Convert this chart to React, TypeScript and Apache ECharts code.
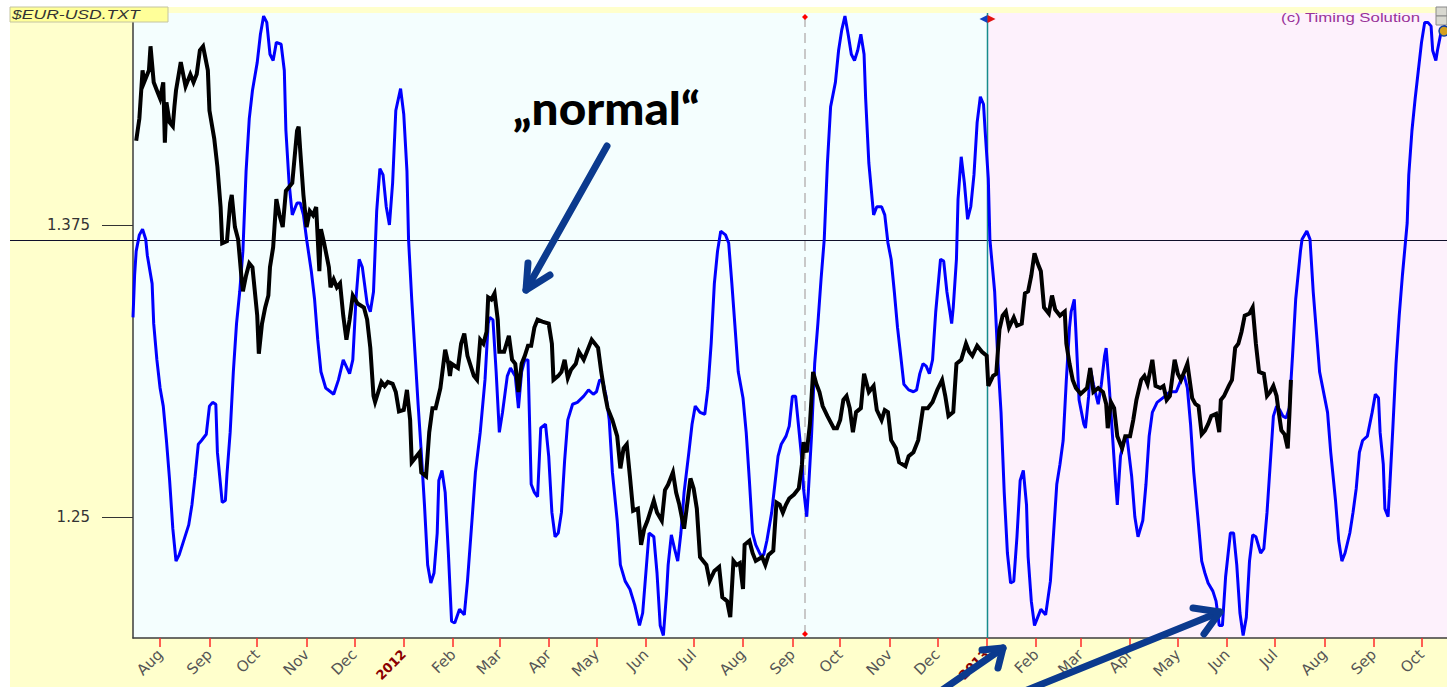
import React, { useEffect, useRef } from "react";
import * as echarts from "echarts";

// Day offsets are counted from 2012-01-01.
const DAY0 = Date.UTC(2012, 0, 1);
const axisMinDay = -170;
const axisMaxDay = 655;
const monthNames = ["Jan", "Feb", "Mar", "Apr", "May", "Jun", "Jul", "Aug", "Sep", "Oct", "Nov", "Dec"];

// EUR-USD close (black)
const priceDays = [
  -168, -166, -164, -163, -160, -159, -157, -155, -153, -151, -150, -149, -147, -145, -144, -143, -140, -137, -134, -132,
  -130, -128, -126, -123, -122, -119, -117, -115, -114, -111, -109, -108, -106, -104, -102, -101, -99, -97, -95, -92,
  -91, -89, -87, -85, -84, -82, -80, -78, -76, -74, -72, -70, -67, -66, -65, -63, -61, -59, -57, -55,
  -53, -52, -50, -47, -46, -44, -42, -40, -38, -36, -34, -32, -29, -25, -23, -21, -19, -18, -16, -14,
  -12, -10, -7, -5, -3, 0, 2, 4, 5, 8, 10, 11, 14, 16, 18, 20, 23, 26, 28, 29,
  30, 34, 36, 38, 40, 44, 46, 48, 50, 52, 53, 55, 57, 59, 60, 63, 66, 68, 70, 72,
  74, 76, 78, 80, 82, 84, 87, 91, 93, 94, 97, 99, 101, 103, 105, 108, 110, 113, 116, 118,
  120, 122, 124, 126, 128, 131, 134, 136, 138, 140, 142, 144, 147, 149, 151, 153, 157, 159, 162, 164,
  166, 169, 171, 173, 176, 180, 182, 184, 186, 188, 190, 192, 195, 198, 200, 203, 205, 207, 209, 211,
  213, 214, 217, 219, 221, 225, 227, 229, 232, 234, 236, 238, 240, 242, 245, 248, 250, 251, 253, 255,
  257, 259, 261, 263, 266, 270, 272, 274, 276, 278, 280, 282, 284, 287, 289, 292, 295, 297, 300, 302,
  304, 306, 309, 311, 315, 317, 320, 323, 326, 329, 332, 335, 338, 340, 342, 345, 347, 350, 353, 355,
  357, 360, 363, 366, 367, 370, 372, 374, 376, 378, 380, 383, 385, 388, 390, 392, 394, 396, 398, 400,
  402, 405, 407, 409, 412, 415, 416, 418, 420, 422, 425, 429, 431, 433, 436, 439, 441, 442, 444, 446,
  448, 451, 453, 456, 458, 460, 463, 465, 467, 470, 472, 475, 477, 479, 481, 484, 486, 488, 490, 492,
  495, 497, 499, 501, 503, 505, 507, 510, 512, 513, 515, 518, 520, 522, 524, 526, 528, 531, 533, 535,
  537, 540, 542, 544, 546, 548, 549, 551, 553, 555, 556, 557
];
const priceValues = [
  1.4111, 1.4206, 1.4412, 1.4361, 1.4412, 1.4515, 1.4361, 1.4326, 1.4292, 1.4361, 1.4102, 1.4275, 1.4189, 1.4172, 1.4257, 1.4326, 1.4447, 1.4343, 1.4395, 1.4361,
  1.4395, 1.4498, 1.4515, 1.4412, 1.424, 1.412, 1.3999, 1.3827, 1.3672, 1.3681, 1.3844, 1.3879, 1.3741, 1.3689, 1.3534, 1.3466, 1.3534, 1.3586, 1.3569, 1.3362,
  1.3199, 1.3328, 1.3397, 1.3448, 1.3569, 1.3655, 1.3861, 1.3792, 1.3741, 1.3896, 1.3913, 1.393, 1.4154, 1.4171, 1.4068, 1.3879, 1.3741, 1.381, 1.3792, 1.3827,
  1.3552, 1.3732, 1.3672, 1.3569, 1.3483, 1.3517, 1.3483, 1.35, 1.3362, 1.3259, 1.3345, 1.3448, 1.3414, 1.3397, 1.3345, 1.3224, 1.3018, 1.2992, 1.3035, 1.3078,
  1.3061, 1.3078, 1.307, 1.3035, 1.2952, 1.2958, 1.3044, 1.2915, 1.2734, 1.276, 1.2777, 1.2691, 1.2674, 1.2863, 1.2966, 1.2966, 1.3052, 1.3216, 1.3156, 1.3104,
  1.3156, 1.3138, 1.3242, 1.3285, 1.319, 1.3104, 1.3087, 1.3259, 1.3242, 1.3293, 1.344, 1.3431, 1.3457, 1.3345, 1.3207, 1.3207, 1.3276, 1.3173, 1.3156, 1.3035,
  1.3156, 1.319, 1.3233, 1.3233, 1.3311, 1.3345, 1.3336, 1.3328, 1.3242, 1.3087, 1.3104, 1.3121, 1.3173, 1.3095, 1.313, 1.3156, 1.3207, 1.3173, 1.3224, 1.3259,
  1.3242, 1.3224, 1.3121, 1.3035, 1.2966, 1.2915, 1.2846, 1.2708, 1.2794, 1.2811, 1.2674, 1.2527, 1.2536, 1.2381, 1.245, 1.2484, 1.257, 1.2519, 1.2484, 1.2615,
  1.2639, 1.2691, 1.2605, 1.2553, 1.245, 1.2665, 1.2622, 1.2536, 1.2329, 1.2312, 1.2295, 1.2226, 1.2269, 1.2286, 1.2157, 1.214, 1.2071, 1.2312, 1.2295, 1.2303,
  1.2192, 1.2381, 1.2398, 1.2346, 1.2312, 1.2329, 1.2295, 1.2338, 1.2355, 1.2562, 1.2553, 1.2519, 1.2553, 1.2579, 1.2596, 1.2622, 1.2725, 1.282, 1.2777, 1.2897,
  1.3121, 1.307, 1.3035, 1.2975, 1.2932, 1.288, 1.288, 1.2915, 1.3001, 1.3018, 1.2966, 1.2863, 1.2949, 1.2966, 1.3113, 1.3035, 1.3061, 1.2958, 1.2915, 1.2958,
  1.2949, 1.2829, 1.2794, 1.2734, 1.2717, 1.276, 1.2777, 1.2829, 1.2966, 1.2966, 1.2992, 1.3045, 1.3087, 1.3018, 1.2932, 1.2949, 1.3156, 1.3173, 1.3242, 1.3207,
  1.319, 1.3233, 1.3207, 1.319, 1.3061, 1.3104, 1.3113, 1.3302, 1.3362, 1.3379, 1.3311, 1.3354, 1.3319, 1.3328, 1.3457, 1.3466, 1.3534, 1.3629, 1.3586, 1.3552,
  1.3397, 1.3371, 1.3448, 1.3388, 1.3362, 1.3379, 1.3242, 1.3156, 1.3087, 1.3052, 1.3027, 1.3052, 1.3138, 1.3035, 1.3052, 1.3035, 1.2984, 1.288, 1.2992, 1.2966,
  1.2846, 1.2794, 1.2846, 1.2846, 1.2915, 1.3001, 1.3087, 1.3104, 1.307, 1.3173, 1.3061, 1.3052, 1.3061, 1.3001, 1.3018, 1.3173, 1.3113, 1.3087, 1.3121, 1.3156,
  1.3009, 1.2984, 1.2975, 1.2854, 1.287, 1.2897, 1.2932, 1.2941, 1.2863, 1.3001, 1.3018, 1.3061, 1.3087, 1.3224, 1.3242, 1.3293, 1.3362, 1.3371, 1.3397, 1.3242,
  1.3121, 1.3113, 1.3018, 1.3035, 1.3061, 1.3018, 1.2966, 1.2871, 1.2854, 1.2794, 1.2932, 1.3087
];

// Cycle projection (blue), 0..100 scale of the window height
const cycleDays = [
  -170, -169, -168, -166, -164, -162, -161, -158, -157, -155, -153, -151, -149, -147, -145, -143, -141, -139, -135, -133,
  -131, -129, -127, -124, -122, -120, -118, -117, -114, -112, -111, -109, -107, -105, -103, -101, -99, -97, -95, -92,
  -90, -88, -86, -84, -82, -80, -77, -75, -74, -72, -70, -67, -65, -63, -61, -58, -56, -54, -52, -49,
  -44, -41, -38, -34, -32, -30, -28, -26, -23, -21, -19, -17, -15, -13, -11, -9, -7, -5, -2, 0,
  2, 3, 5, 7, 9, 11, 13, 15, 17, 19, 21, 22, 24, 26, 28, 30, 32, 35, 38, 40,
  43, 45, 48, 51, 53, 54, 56, 58, 60, 62, 65, 67, 70, 72, 74, 76, 78, 80, 82, 84,
  86, 89, 91, 93, 95, 97, 99, 101, 103, 106, 109, 113, 116, 119, 121, 123, 125, 127, 129, 131,
  134, 136, 139, 142, 145, 148, 150, 152, 154, 157, 159, 161, 163, 165, 166, 168, 170, 172, 174, 176,
  179, 181, 183, 186, 189, 191, 193, 195, 197, 199, 202, 204, 206, 208, 210, 213, 215, 217, 219, 221,
  224, 226, 228, 231, 233, 235, 237, 240, 242, 244, 246, 248, 250, 251, 253, 254, 256, 258, 260, 262,
  264, 266, 268, 271, 273, 275, 277, 279, 281, 283, 285, 287, 289, 290, 292, 295, 297, 300, 302, 304,
  306, 308, 310, 312, 314, 317, 320, 322, 324, 326, 328, 330, 332, 334, 337, 339, 341, 344, 345, 347,
  348, 350, 352, 354, 356, 358, 360, 362, 364, 365, 367, 368, 371, 373, 375, 377, 379, 381, 383, 385,
  387, 389, 391, 392, 394, 396, 398, 400, 403, 406, 408, 410, 412, 414, 416, 418, 419, 421, 422, 424,
  427, 428, 430, 431, 433, 436, 438, 440, 441, 443, 445, 447, 448, 450, 452, 454, 457, 459, 461, 464,
  466, 468, 470, 473, 478, 481, 485, 488, 490, 492, 494, 496, 499, 501, 503, 505, 508, 510, 512, 514,
  516, 519, 521, 523, 525, 527, 529, 531, 533, 535, 538, 540, 542, 544, 546, 548, 550, 552, 554, 556,
  558, 560, 563, 564, 567, 569, 571, 573, 575, 578, 580, 582, 585, 587, 589, 591, 594, 596, 598, 600,
  602, 605, 608, 610, 612, 613, 615, 616, 618, 619, 621, 623, 625, 627, 630, 631, 633, 635, 637, 639,
  641, 643, 645, 646, 648, 649, 651, 654
];
const cycleValues = [
  51.3, 58.0, 61.9, 64.5, 65.4, 63.8, 61.2, 56.7, 50.3, 44.5, 40.0, 37.1, 31.6, 25.2, 17.5, 12.3, 13.3, 14.9, 18.1, 21.3,
  25.9, 31.0, 31.6, 32.6, 37.1, 37.7, 37.4, 29.7, 21.7, 22.0, 26.2, 32.9, 42.6, 50.3, 55.4, 61.9, 74.7, 83.1, 87.6, 92.1,
  96.6, 99.5, 98.5, 93.4, 92.4, 95.3, 95.0, 90.8, 81.2, 72.8, 67.7, 69.6, 69.6, 67.7, 63.8, 58.6, 54.2, 47.7, 42.6, 40.0,
  39.0, 41.3, 44.5, 42.3, 44.5, 54.2, 60.6, 59.3, 53.5, 52.2, 55.4, 68.3, 75.1, 74.1, 69.0, 66.1, 72.8, 84.4, 87.9, 83.8,
  74.7, 63.8, 54.2, 45.8, 37.4, 29.7, 21.3, 11.7, 8.8, 10.4, 16.8, 25.2, 26.8, 23.3, 13.6, 2.7, 2.4, 4.6, 3.7, 9.1,
  19.4, 26.5, 32.9, 41.3, 50.3, 51.3, 50.9, 42.6, 32.9, 36.1, 41.9, 43.2, 41.9, 36.8, 42.6, 44.5, 44.5, 24.6, 23.3, 22.6,
  33.6, 34.2, 29.1, 20.1, 16.2, 16.8, 20.1, 28.4, 34.9, 37.4, 37.7, 38.7, 39.7, 39.0, 39.4, 41.3, 41.0, 38.7, 34.9, 26.5,
  18.8, 11.7, 9.1, 7.8, 5.3, 2.0, 4.0, 10.4, 16.8, 16.2, 10.4, 2.0, 0.4, 7.2, 11.7, 16.5, 14.3, 12.3, 16.8, 23.3,
  29.7, 34.2, 37.1, 36.1, 35.8, 40.0, 47.1, 56.7, 61.9, 65.1, 64.5, 63.2, 56.7, 49.7, 42.6, 38.4, 32.9, 25.2, 16.8, 14.9,
  13.3, 13.3, 15.6, 20.1, 24.6, 29.1, 31.0, 32.3, 33.9, 38.7, 38.7, 33.6, 28.4, 23.9, 19.4, 23.3, 32.3, 43.9, 50.3, 57.4,
  63.8, 76.0, 85.0, 88.9, 94.0, 97.3, 99.5, 96.6, 93.4, 92.4, 94.0, 96.6, 93.4, 86.3, 76.0, 67.7, 69.0, 69.0, 67.7, 63.2,
  60.6, 55.4, 49.7, 45.2, 40.6, 39.7, 39.4, 39.7, 42.3, 43.9, 43.5, 42.3, 44.5, 52.2, 60.6, 60.3, 55.4, 50.3, 52.9, 60.6,
  70.2, 77.0, 72.8, 67.0, 69.0, 74.1, 82.5, 86.6, 85.4, 81.2, 73.5, 63.8, 55.4, 44.5, 36.1, 23.3, 13.6, 8.8, 9.1, 16.2,
  25.2, 26.8, 21.3, 13.0, 5.9, 2.0, 3.3, 4.6, 3.7, 9.1, 16.8, 24.6, 27.8, 31.6, 41.3, 49.7, 52.2, 54.2, 49.0, 38.1,
  34.2, 33.6, 38.7, 43.2, 40.6, 37.4, 40.6, 45.1, 46.4, 40.0, 32.3, 24.6, 21.3, 29.1, 31.3, 32.3, 25.9, 19.4, 16.2, 18.8,
  24.6, 32.3, 36.1, 37.7, 38.7, 39.4, 39.4, 41.3, 42.0, 40.0, 34.2, 26.5, 18.1, 12.3, 10.4, 8.8, 7.5, 5.9, 2.0, 2.0,
  9.8, 16.8, 16.8, 11.7, 4.0, 0.4, 3.3, 12.3, 16.5, 16.2, 13.6, 14.3, 20.1, 27.8, 35.5, 37.1, 36.5, 35.5, 35.2, 36.8,
  45.1, 54.2, 61.9, 63.8, 65.1, 63.8, 55.4, 49.0, 42.6, 38.7, 36.1, 29.7, 22.0, 15.6, 12.3, 13.6, 16.8, 20.1, 23.9, 29.7,
  31.6, 32.3, 36.1, 39.0, 38.4, 32.9, 27.8, 20.7, 19.4, 23.9, 33.6, 43.9, 51.6, 58.0, 66.4, 74.1, 81.2, 86.3, 90.8, 95.3,
  98.5, 98.5, 97.9, 94.0, 92.4, 94.0, 96.6, 98.0
];

const priceTicks = [1.25, 1.375];
const priceMin = 1.1982;
const priceMax = 1.46575;
const levelPrice = 1.3686;
const forecastStartDay = 366; // 2013-01-01
const markerDay = 252; // 2012-09-09

const dayToDate = (d: number) => new Date(DAY0 + d * 86400000);

function monthStartDays(): number[] {
  const out: number[] = [];
  for (let y = 2011; y <= 2013; y++) {
    for (let m = 0; m < 12; m++) {
      const d = Math.round((Date.UTC(y, m, 1) - DAY0) / 86400000);
      if (d > axisMinDay && d < axisMaxDay) out.push(d);
    }
  }
  return out;
}

export default function App() {
  const ref = useRef<HTMLDivElement>(null);

  useEffect(() => {
    document.body.style.margin = "0";
    if (!ref.current) return;
    const chart = echarts.init(ref.current, undefined, { renderer: "svg" });
    const ticks = monthStartDays();

    const option: any = {
      animation: false,
      grid: { left: 133, top: 13, right: 0, bottom: 49, containLabel: false, outerBoundsMode: "none" },
      xAxis: {
        type: "value",
        min: axisMinDay,
        max: axisMaxDay,
        axisLine: { show: true, onZero: false, lineStyle: { color: "#3c3c3c", width: 1.5 } },
        axisTick: { show: true, customValues: ticks, length: 9, lineStyle: { color: "#ff2a2a", width: 1.5 } },
        axisLabel: {
          customValues: ticks,
          rotate: 45,
          margin: 14,
          color: "#555",
          fontFamily: "DejaVu Sans",
          fontSize: 15,
          formatter: (v: number) => {
            const dt = dayToDate(v);
            const m = dt.getUTCMonth();
            if (m === 0) return "{yr|" + dt.getUTCFullYear() + "}";
            return monthNames[m];
          },
          rich: {
            yr: { color: "#8b0000", fontWeight: "bold", fontFamily: "DejaVu Sans", fontSize: 13 },
          },
        },
        splitLine: { show: false },
      },
      yAxis: [
        {
          type: "value",
          min: priceMin,
          max: priceMax,
          axisLine: { show: true, onZero: false, lineStyle: { color: "#3c3c3c", width: 1.5 } },
          axisTick: { show: true, customValues: priceTicks, length: 31, lineStyle: { color: "#333", width: 1 } },
          axisLabel: {
            customValues: priceTicks,
            margin: 43,
            color: "#333",
            fontFamily: "DejaVu Sans",
            fontSize: 15,
            padding: [0, 0, 6, 0],
            formatter: (v: number) => String(v),
          },
          splitLine: { show: false },
        },
        { type: "value", min: 0, max: 100, show: false },
      ],
      series: [
        {
          name: "cycle",
          type: "line",
          yAxisIndex: 1,
          data: cycleDays.map((d, i) => [d, cycleValues[i]]),
          symbol: "none",
          lineStyle: { color: "#0000ff", width: 3 },
          z: 3,
        },
        {
          name: "EUR-USD",
          type: "line",
          yAxisIndex: 0,
          data: priceDays.map((d, i) => [d, priceValues[i]]),
          symbol: "none",
          lineStyle: { color: "#000000", width: 4, join: "miter" },
          z: 4,
        },
      ],
    };
    chart.setOption(option);

    const px = (d: number) => chart.convertToPixel({ xAxisIndex: 0 }, d) as number;
    const py = (v: number) => chart.convertToPixel({ yAxisIndex: 0 }, v) as number;
    const left = px(axisMinDay);
    const right = px(axisMaxDay);
    const top = py(priceMax);
    const bottom = py(priceMin);
    const xSplit = Math.round(px(forecastStartDay)) + 0.5;
    const xMark = Math.round(px(markerDay));
    const yLevel = Math.round(py(levelPrice)) + 0.5;
    const arrowColor = "#0b3a8e";
    const arrowStyle = { stroke: arrowColor, lineWidth: 7, lineCap: "round", lineJoin: "round", fill: null };

    chart.setOption({
      graphic: {
        elements: [
          { type: "rect", z: -100, shape: { x: 10, y: 7, width: 1437, height: 680 }, style: { fill: "#ffffcc" } },
          { type: "rect", z: -90, shape: { x: left, y: top, width: xSplit - left, height: bottom - top }, style: { fill: "#f4fefe" } },
          { type: "rect", z: -90, shape: { x: xSplit, y: top, width: right - xSplit, height: bottom - top }, style: { fill: "#fdf1fc" } },
          { type: "line", z: 1, shape: { x1: 10, y1: yLevel, x2: 1447, y2: yLevel }, style: { stroke: "#10102a", lineWidth: 1 } },
          { type: "line", z: 1, shape: { x1: xMark, y1: top + 4, x2: xMark, y2: bottom - 4 }, style: { stroke: "#c8c8c8", lineWidth: 2, lineDash: [10, 6] } },
          { type: "polygon", z: 50, shape: { points: [[xMark - 3, top + 4], [xMark, top + 1], [xMark + 3, top + 4], [xMark, top + 7]] }, style: { fill: "#ff0000" } },
          { type: "polygon", z: 50, shape: { points: [[xMark - 3, bottom - 4], [xMark, bottom - 7], [xMark + 3, bottom - 4], [xMark, bottom - 1]] }, style: { fill: "#ff0000" } },
          { type: "line", z: 1, shape: { x1: xSplit, y1: top, x2: xSplit, y2: bottom }, style: { stroke: "#168c8c", lineWidth: 1.5 } },
          { type: "polygon", z: 50, shape: { points: [[xSplit - 8, top + 6], [xSplit, top + 2], [xSplit, top + 10]] }, style: { fill: "#1040c0" } },
          { type: "polygon", z: 50, shape: { points: [[xSplit + 8, top + 6], [xSplit, top + 2], [xSplit, top + 10]] }, style: { fill: "#e01010" } },
          { type: "rect", z: 60, shape: { x: 10, y: 7, width: 158, height: 15 }, style: { fill: "#ffff99", stroke: "#c4c4a0", lineWidth: 1 } },
          {
            type: "text", z: 61, x: 12, y: 8, scaleX: 1.35,
            style: { text: "$EUR-USD.TXT", font: "italic 13px 'Liberation Sans'", fill: "#333", textVerticalAlign: "top" },
          },
          {
            type: "text", z: 61, x: 1420, y: 12, scaleX: 1.4, originX: 0,
            style: { text: "(c) Timing Solution", font: "12px 'Liberation Sans'", fill: "#993399", textAlign: "right", textVerticalAlign: "top" },
          },
          { type: "rect", z: 61, shape: { x: 1436, y: 7, width: 11, height: 9 }, style: { fill: "#d8d8d0", stroke: "#888", lineWidth: 1 } },
          { type: "rect", z: 61, shape: { x: 1436, y: 16, width: 11, height: 9 }, style: { fill: "#d8d8d0", stroke: "#888", lineWidth: 1 } },
          { type: "circle", z: 61, shape: { cx: 1444, cy: 31, r: 5 }, style: { fill: "#d4a020", stroke: "#1040a0", lineWidth: 1.5 } },
          {
            type: "text", z: 70, x: 513, y: 85, scaleX: 1.06,
            style: { text: "\u201Enormal\u201C", font: "900 45px Lato", fill: "#000", textVerticalAlign: "top" },
          },
          { type: "polyline", z: 80, shape: { points: [[607, 146], [526, 290]] }, style: arrowStyle },
          { type: "polyline", z: 80, shape: { points: [[528, 263], [526, 290], [550, 275]] }, style: arrowStyle },
          { type: "polyline", z: 80, shape: { points: [[935, 695], [1003, 648]] }, style: arrowStyle },
          { type: "polyline", z: 80, shape: { points: [[982, 650], [1003, 648], [998, 668]] }, style: arrowStyle },
          { type: "polyline", z: 80, shape: { points: [[1015, 695], [1220, 612]] }, style: arrowStyle },
          { type: "polyline", z: 80, shape: { points: [[1193, 608], [1220, 612], [1204, 634]] }, style: arrowStyle },
        ],
      },
    });

    return () => chart.dispose();
  }, []);

  return <div ref={ref} style={{ position: "absolute", left: 0, top: 0, width: 1447, height: 687 }} />;
}
